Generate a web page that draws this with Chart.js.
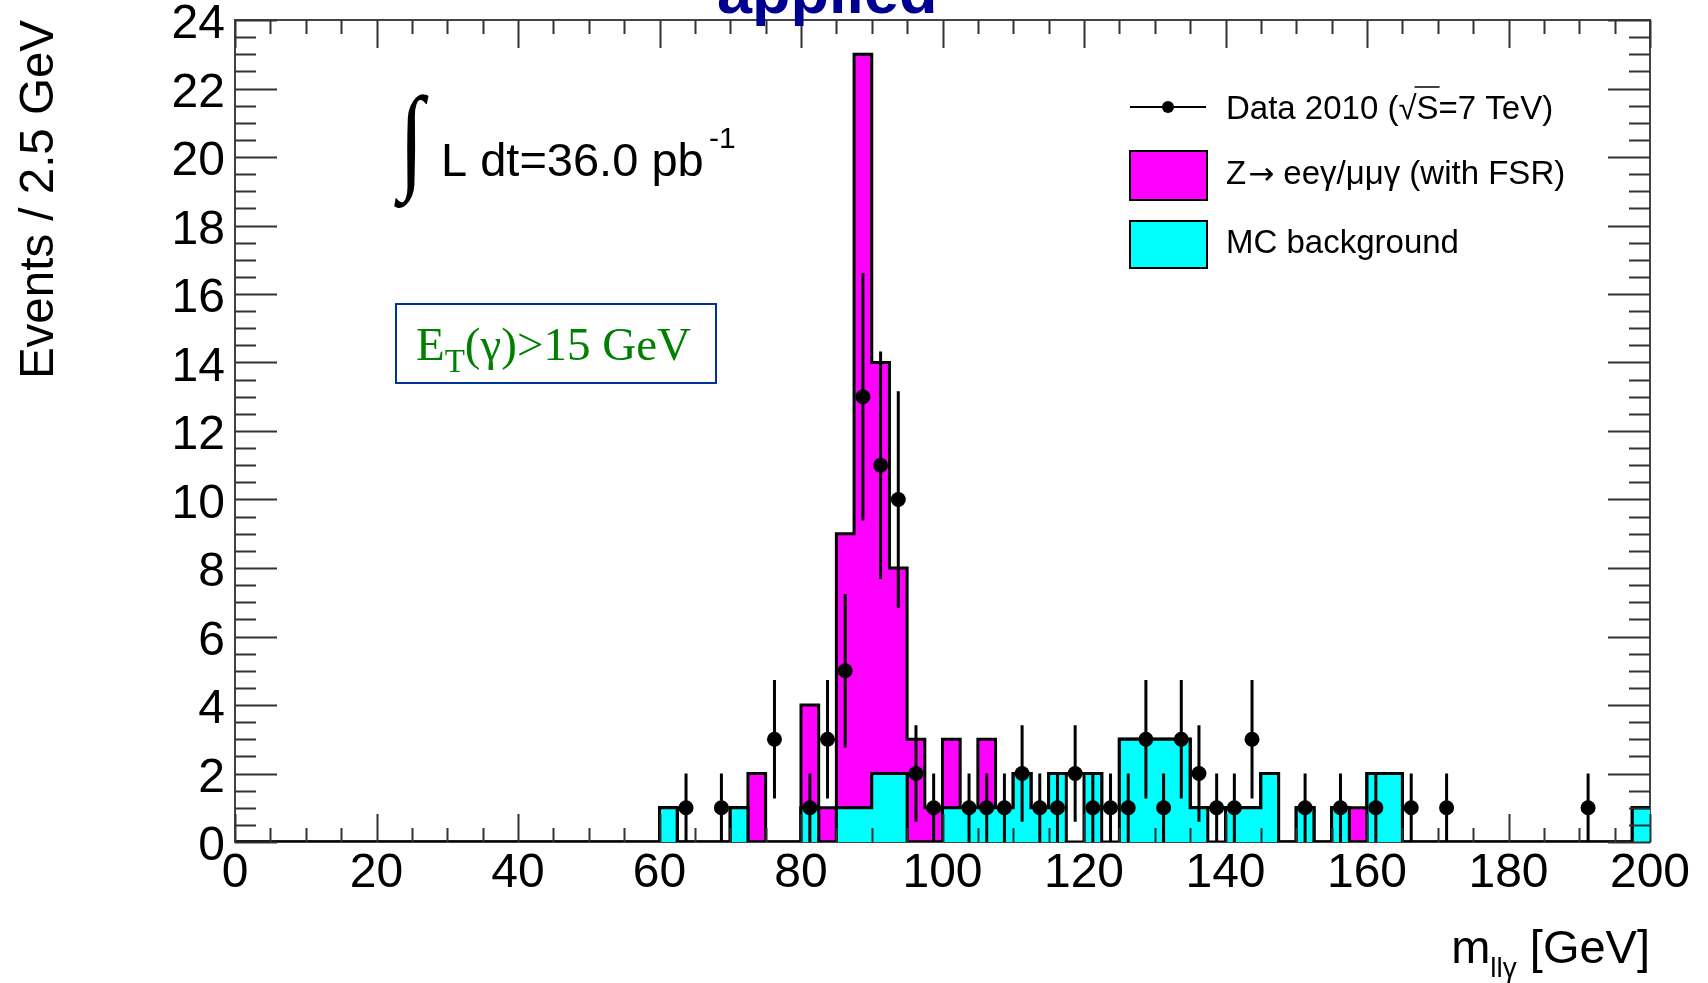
<!DOCTYPE html>
<html>
<head>
<meta charset="utf-8"/>
<title>m_llg - Events / 2.5 GeV</title>
<script src="https://cdn.jsdelivr.net/npm/chart.js@4.4.1/dist/chart.umd.min.js"></script>
<style>
  body { margin: 0; background: #fff; }
  #wrap { width: 1708px; height: 983px; }
</style>
</head>
<body>
<div id="wrap"><canvas id="chart"></canvas></div>
<script>
// 2.5 GeV bins starting at 60 GeV (nothing below)
var binStart = 60;
var binWidth = 2.5;

//                 60          70          80          90          100         110         120         130         140         150         160         170         180         190
var mcBackground = [1,0,0,0, 1,0,0,0, 1,0,1,1, 2,2,0,0, 1,1,1,1, 2,1,2,0, 2,0,3,3, 3,3,1,0, 1,1,2,0, 1,0,1,0, 2,2,0,0, 0,0,0,0, 0,0,0,0, 0,0,0,1];
var mcOther      = [0,0,0,0, 0,0,0,0, 0,0,0,0, 0,0,0,0, 0,0,0,0, 0,0,0,2, 0,1,0,0, 0,0,0,1, 0,0,0,0, 0,0,0,0, 0,0,0,0, 0,0,0,0, 0,0,0,0, 0,0,0,0];
var zSignal      = [0,0,0,0, 0,2,0,0, 3,1,8,22, 12,6,3,1, 2,0,2,0, 0,0,0,0, 0,0,0,0, 0,0,0,0, 0,0,0,0, 0,0,0,1, 0,0,0,0, 0,0,0,0, 0,0,0,0, 0,0,0,0];

// data 2010, bin centres
var dataMass   = [63.75, 68.75, 76.25, 81.25, 83.75, 86.25, 88.75, 91.25, 93.75, 96.25, 98.75,
                  103.75, 106.25, 108.75, 111.25, 113.75, 116.25, 118.75, 121.25, 123.75, 126.25,
                  128.75, 131.25, 133.75, 136.25, 138.75, 141.25, 143.75, 151.25, 156.25, 161.25,
                  166.25, 171.25, 191.25];
var dataEvents = [1, 1, 3, 1, 3, 5, 13, 11, 10, 2, 1,
                  1, 1, 1, 2, 1, 1, 2, 1, 1, 1,
                  3, 1, 3, 2, 1, 1, 3, 1, 1, 1,
                  1, 1, 1];
var dataErr    = [1, 1, 1.73, 1, 1.73, 2.24, 3.61, 3.32, 3.16, 1.41, 1,
                  1, 1, 1, 1.41, 1, 1, 1.41, 1, 1, 1,
                  1.73, 1, 1.73, 1.41, 1, 1, 1.73, 1, 1, 1,
                  1, 1, 1];

var xTickLabels = [0, 20, 40, 60, 80, 100, 120, 140, 160, 180, 200];
var yTickLabels = [0, 2, 4, 6, 8, 10, 12, 14, 16, 18, 20, 22, 24];

// stack: background, then the white part, then the Z signal on top
var cum1 = [], cum2 = [], cum3 = [];
for (var i = 0; i < mcBackground.length; i++) {
    cum1[i] = mcBackground[i];
    cum2[i] = cum1[i] + mcOther[i];
    cum3[i] = cum2[i] + zSignal[i];
}

function stepPoints(vals) {
    var pts = [{x: 0, y: 0}];
    for (var i = 0; i < vals.length; i++) pts.push({x: binStart + i * binWidth, y: vals[i]});
    pts.push({x: binStart + vals.length * binWidth, y: vals[vals.length - 1]});
    return pts;
}

var dataPts = [], errPts = [];
for (var i = 0; i < dataMass.length; i++) {
    dataPts.push({x: dataMass[i], y: dataEvents[i]});
    errPts.push({x: dataMass[i], y: dataEvents[i] - dataErr[i]});
    errPts.push({x: dataMass[i], y: dataEvents[i] + dataErr[i]});
    errPts.push({x: dataMass[i], y: null});
}

var SANS = '"Liberation Sans", Arial, sans-serif';
var SERIF = '"Liberation Serif", "Times New Roman", serif';
Chart.defaults.font.family = SANS;

var rootFrame = {
    id: 'rootFrame',
    beforeDatasetsDraw: function(chart) {
        var ctx = chart.ctx, a = chart.chartArea;
        ctx.save();
        ctx.strokeStyle = '#444';
        ctx.lineWidth = 2;
        ctx.strokeRect(a.left, a.top, a.right - a.left, a.bottom - a.top);
        ctx.restore();
    },
    afterDatasetsDraw: function(chart) {
        var ctx = chart.ctx, a = chart.chartArea;
        var xs = chart.scales.x, ys = chart.scales.y;
        ctx.save();
        ctx.strokeStyle = '#333';
        ctx.lineWidth = 2;
        ctx.beginPath();
        for (var v = 0; v <= 200; v += 5) {
            var px = Math.round(xs.getPixelForValue(v)) + 0.5;
            var len = (v % 20 === 0) ? 28 : 14;
            ctx.moveTo(px, a.bottom); ctx.lineTo(px, a.bottom - len);
            ctx.moveTo(px, a.top); ctx.lineTo(px, a.top + len);
        }
        for (var w = 0; w <= 24; w += 0.5) {
            var py = Math.round(ys.getPixelForValue(w)) + 0.5;
            var l2 = (w % 2 === 0) ? 42 : 21;
            ctx.moveTo(a.left, py); ctx.lineTo(a.left + l2, py);
            ctx.moveTo(a.right, py); ctx.lineTo(a.right - l2, py);
        }
        ctx.stroke();
        ctx.restore();
    },
    afterDraw: function(chart) {
        var ctx = chart.ctx;
        ctx.save();
        ctx.textBaseline = 'alphabetic';
        ctx.textAlign = 'left';

        // cut-off title
        ctx.fillStyle = '#000090';
        ctx.font = 'bold 63px ' + SANS;
        ctx.fillText('applied', 717, 13);

        // luminosity
        ctx.fillStyle = '#000';
        ctx.save();
        ctx.translate(399, 177);
        ctx.scale(0.78, 1);
        ctx.font = '116px ' + SERIF;
        ctx.fillText('\u222B', 0, 0);
        ctx.restore();
        ctx.font = '47px ' + SANS;
        ctx.fillText('L dt=36.0 pb', 441, 176);
        ctx.font = '30px ' + SANS;
        ctx.fillText('-1', 709, 148);

        // photon cut box
        ctx.strokeStyle = '#003399';
        ctx.lineWidth = 2;
        ctx.strokeRect(396, 304, 320, 79);
        ctx.fillStyle = '#008000';
        ctx.font = '47px ' + SERIF;
        var x = 416;
        ctx.fillText('E', x, 360);
        x += ctx.measureText('E').width;
        ctx.font = '33px ' + SERIF;
        ctx.fillText('T', x, 372);
        x += ctx.measureText('T').width;
        ctx.font = '47px ' + SERIF;
        ctx.fillText('(\u03B3)>15 GeV', x, 360);

        // legend
        ctx.strokeStyle = '#000';
        ctx.fillStyle = '#000';
        ctx.lineWidth = 2;
        ctx.beginPath();
        ctx.moveTo(1130, 107); ctx.lineTo(1206, 107);
        ctx.stroke();
        ctx.beginPath();
        ctx.arc(1168, 107, 6, 0, Math.PI * 2);
        ctx.fill();

        ctx.fillStyle = '#ff00ff';
        ctx.fillRect(1130, 151, 77, 49);
        ctx.strokeRect(1130, 151, 77, 49);
        ctx.fillStyle = '#00ffff';
        ctx.fillRect(1130, 221, 77, 47);
        ctx.strokeRect(1130, 221, 77, 47);

        ctx.fillStyle = '#000';
        ctx.font = '33px ' + SANS;
        var lx = 1226;
        ctx.fillText('Data 2010 (', lx, 119);
        lx += ctx.measureText('Data 2010 (').width;
        ctx.fillText('\u221A', lx, 119);
        lx += ctx.measureText('\u221A').width;
        var sw = ctx.measureText('S').width;
        ctx.fillText('S', lx, 119);
        ctx.lineWidth = 1.5;
        ctx.beginPath();
        ctx.moveTo(lx - 2, 87); ctx.lineTo(lx + sw + 1, 87);
        ctx.stroke();
        ctx.fillText('=7 TeV)', lx + sw, 119);

        lx = 1226;
        ctx.fillText('Z', lx, 184);
        lx += ctx.measureText('Z').width + 2;
        ctx.font = '31px "DejaVu Sans", sans-serif';
        ctx.fillText('\u2192', lx, 184);
        lx += ctx.measureText('\u2192').width;
        ctx.font = '33px ' + SANS;
        ctx.fillText(' ee\u03B3/\u03BC\u03BC\u03B3 (with FSR)', lx, 184);
        ctx.fillText('MC background', 1226, 253);

        // x axis title, right aligned to the axis end
        ctx.font = '47px ' + SANS;
        var wm = ctx.measureText('m').width;
        var wg = ctx.measureText(' [GeV]').width;
        ctx.font = '28px ' + SANS;
        var wsub = ctx.measureText('ll\u03B3').width;
        var x0 = chart.chartArea.right - wm - wsub - wg;
        ctx.font = '47px ' + SANS;
        ctx.fillText('m', x0, 963);
        ctx.fillText(' [GeV]', x0 + wm + wsub, 963);
        ctx.font = '28px ' + SANS;
        ctx.fillText('ll\u03B3', x0 + wm, 977);
        ctx.restore();
    }
};

var stepStyle = {
    stepped: true,
    fill: 'origin',
    borderColor: '#000',
    borderWidth: 3,
    pointRadius: 0,
    borderJoinStyle: 'miter'
};

var ctx = document.getElementById('chart');
var myChart = new Chart(ctx, {
    type: 'line',
    data: {
        datasets: [
            {
                label: 'Data 2010',
                data: dataPts,
                showLine: false,
                pointRadius: 7.5,
                pointBackgroundColor: '#000',
                pointBorderWidth: 0
            },
            {
                label: 'errors',
                data: errPts,
                borderColor: '#000',
                borderWidth: 3,
                pointRadius: 0,
                spanGaps: false
            },
            Object.assign({label: 'MC background', data: stepPoints(cum1), backgroundColor: '#00ffff'}, stepStyle),
            Object.assign({label: 'other', data: stepPoints(cum2), backgroundColor: '#ffffff'}, stepStyle),
            Object.assign({label: 'Z signal', data: stepPoints(cum3), backgroundColor: '#ff00ff'}, stepStyle)
        ]
    },
    options: {
        responsive: true,
        maintainAspectRatio: false,
        animation: false,
        events: [],
        layout: { padding: { left: 0, right: 58, top: 20, bottom: 0 } },
        plugins: {
            legend: { display: false },
            tooltip: { enabled: false }
        },
        scales: {
            x: {
                type: 'linear',
                min: 0,
                max: 200,
                grid: { display: false, drawTicks: false },
                border: { display: false },
                ticks: { autoSkip: false, maxRotation: 0, padding: 3, color: '#000', font: { size: 48 } },
                afterBuildTicks: function(s) {
                    s.ticks = xTickLabels.map(function(v) { return {value: v}; });
                },
                afterFit: function(s) {
                    s.height = 141;
                    s.paddingLeft = 0;
                    s.paddingRight = 0;
                }
            },
            y: {
                type: 'linear',
                min: 0,
                max: 24,
                grid: { display: false, drawTicks: false },
                border: { display: false },
                ticks: { padding: 10, labelOffset: 5, color: '#000', font: { size: 48 } },
                afterBuildTicks: function(s) {
                    s.ticks = yTickLabels.map(function(v) { return {value: v}; });
                },
                afterFit: function(s) {
                    s.width = 235;
                    s.paddingTop = 0;
                    s.paddingBottom = 0;
                },
                title: {
                    display: true,
                    text: 'Events / 2.5 GeV',
                    align: 'end',
                    color: '#000',
                    font: { size: 47.5 },
                    padding: { top: 11, bottom: 0 }
                }
            }
        }
    },
    plugins: [rootFrame]
});
</script>
</body>
</html>
